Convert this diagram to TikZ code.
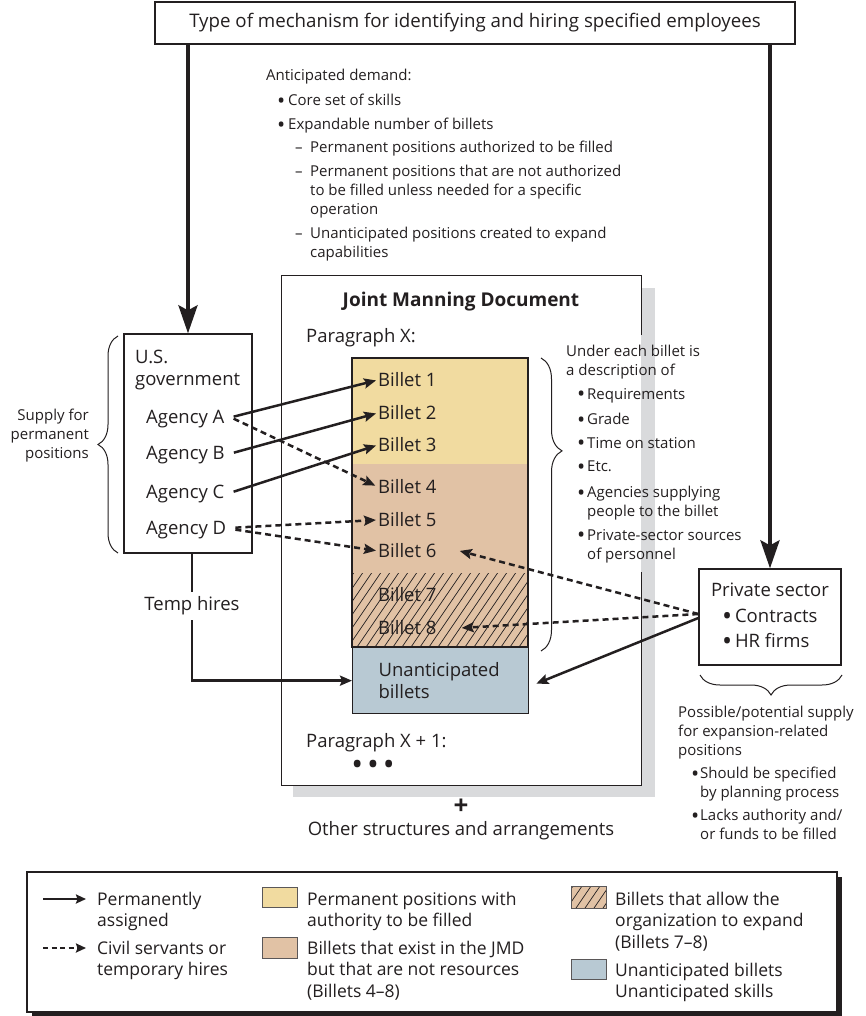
\documentclass[tikz,border=0pt]{standalone}
\usepackage{fontspec}
\setmainfont{Open Sans}
\usetikzlibrary{arrows.meta,decorations.pathreplacing,calc}
\definecolor{ink}{HTML}{231F20}
\definecolor{cyel}{HTML}{F1DBA0}
\definecolor{ctan}{HTML}{E1C2A5}
\definecolor{cblue}{HTML}{B8C9D3}
\definecolor{cshadow}{HTML}{D9DADC}
\newcommand\bigbul{\raisebox{-0.17em}{\scalebox{1.45}{•}}}
\newcommand\itm[1]{\makebox[#1][l]{\bigbul}}
\newcommand\dsh{\makebox[15pt][l]{–}}
\newcommand\fmain{\fontsize{18.5}{22}\selectfont}
\newcommand\fsmall{\fontsize{15}{19}\selectfont}
\newcommand\fleg{\fontsize{17.5}{21.5}\selectfont}
\newcommand\hatchrect[4]{%
  \begin{scope}
    \clip (#1,#2) rectangle (#3,#4);
    \foreach \hx in {0,9,...,260} \draw[hatchline] ({#1-60+\hx},{#4+3}) -- ++(56,-82);
  \end{scope}}
\begin{document}
\begin{tikzpicture}[x=1pt,y=-1pt,
  every node/.style={text=ink},
  stxt/.style={inner sep=0pt, anchor=north west, align=left, font=\fsmall},
  mtxt/.style={inner sep=0pt, anchor=north west, align=left, font=\fmain},
  ltxt/.style={inner sep=0pt, anchor=north west, align=left, font=\fleg},
  bigarrow/.style={line width=3.8pt, draw=ink, -{Stealth[length=28pt,width=19pt,inset=5pt]}},
  conn/.style={line width=2.5pt, draw=ink, -{Stealth[length=12pt,width=10pt,inset=2pt]}},
  dconn/.style={conn, dash pattern=on 6pt off 4pt},
  lconn/.style={line width=2.2pt, draw=ink, -{Stealth[length=10pt,width=9pt,inset=1.5pt]}},
  ldconn/.style={lconn, dash pattern=on 5pt off 3.5pt},
  brc/.style={decorate, line width=1pt, draw=ink},
  hatchline/.style={line width=0.7pt, draw=ink},
  swatch/.style={line width=0.8pt, draw=ink!75}
]
\useasboundingbox (0,0) rectangle (865,1016);

% ---------- title ----------
\node[draw=ink, line width=1.3pt, minimum width=640, minimum height=42, inner sep=0pt, font=\fontsize{18.7}{22}\selectfont] (title) at (475,23)
  {Type of mechanism for identifying and hiring specified employees};

% ---------- anticipated demand ----------
\node[stxt] (ad0) at (266,69) {Anticipated demand:};
\node[stxt] (ad1) at (277,94) {\itm{11pt}Core set of skills};
\node[stxt] (ad2) at (277,118) {\itm{11pt}Expandable number of billets};
\node[stxt] (ad3) at (295,141) {\dsh Permanent positions authorized to be filled};
\node[stxt] (ad4) at (295,165) {\dsh Permanent positions that are not authorized\\\hspace*{15pt}to be filled unless needed for a specific\\\hspace*{15pt}operation};
\node[stxt] (ad5) at (295,227) {\dsh Unanticipated positions created to expand\\\hspace*{15pt}capabilities};

% ---------- JMD frame ----------
\fill[cshadow] (293,288) rectangle (655,797);
\fill[white] (281,275) rectangle (641,785);
\draw[line width=1pt, draw=ink] (641,335) -- (641,275) -- (281,275) -- (281,785) -- (641,785) -- (641,572);
\node[font=\fontsize{19}{22}\selectfont\bfseries, inner sep=0pt] (jmd) at (461,302) {Joint Manning Document};
\node[mtxt] (px) at (306,328.6) {Paragraph X:};

% billet column
\fill[cyel] (352,358) rectangle (528,464);
\fill[ctan] (352,464) rectangle (528,647);
\hatchrect{352}{573}{528}{647}
\draw[line width=1.3pt, draw=ink] (352,358) rectangle (528,647);
\node[draw=ink, line width=1.3pt, fill=cblue, minimum width=176, minimum height=66, inner xsep=26pt, inner ysep=0pt, text width=124pt, align=left, font=\fmain, anchor=north west] (unant) at (352,647) {Unanticipated\\billets};

\node[mtxt] (b1) at (378,372.6) {Billet 1};
\node[mtxt] (b2) at (378,405.6) {Billet 2};
\node[mtxt] (b3) at (378,437.6) {Billet 3};
\node[mtxt] (b4) at (378,479.6) {Billet 4};
\node[mtxt] (b5) at (378,512.6) {Billet 5};
\node[mtxt] (b6) at (378,543.6) {Billet 6};
\node[mtxt] (b7) at (378,587.6) {Billet 7};
\node[mtxt] (b8) at (378,620.6) {Billet 8};

\node[mtxt] (px1) at (306,733.6) {Paragraph X + 1:};
\node[font=\fmain, inner sep=0pt] (dots) at (373,768) {\scalebox{1.7}{•}\hspace{4pt}\scalebox{1.7}{•}\hspace{4pt}\scalebox{1.7}{•}};
\node[font=\fontsize{26}{26}\selectfont\bfseries, inner sep=0pt] (plus) at (461,807) {+};
\node[font=\fmain, inner sep=0pt] (other) at (461,831) {Other structures and arrangements};

% ---------- U.S. government ----------
\node[draw=ink, line width=1.3pt, minimum width=128, minimum height=219, inner sep=0pt] (usg) at (188,443.5) {};
\node[mtxt] (usgt) at (135,349.6) {U.S.\\government};
\node[mtxt] (agA) at (146,409.6) {Agency A};
\node[mtxt] (agB) at (146,445.6) {Agency B};
\node[mtxt] (agC) at (146,484.6) {Agency C};
\node[mtxt] (agD) at (146,520.6) {Agency D};
\node[stxt, anchor=north east, align=right] (sup) at (89,409) {Supply for\\permanent\\positions};
\coordinate (lbA) at (118,553);
\coordinate (lbB) at (118,336);
\draw[brc, decoration={brace, amplitude=20pt}] (lbA) -- (lbB);

\node[font=\fmain, fill=white, inner xsep=1pt, inner ysep=5pt] (temp) at (192,606) {Temp hires};

% ---------- description ----------
\node[stxt] (ue0) at (566,345) {Under each billet is\\a description of};
\node[stxt] (ue1) at (577,388) {\itm{10pt}Requirements};
\node[stxt] (ue2) at (577,413) {\itm{10pt}Grade};
\node[stxt] (ue3) at (577,437) {\itm{10pt}Time on station};
\node[stxt] (ue4) at (577,461) {\itm{10pt}Etc.};
\node[stxt] (ue5) at (577,486) {\itm{10pt}Agencies supplying\\\hspace*{10pt}people to the billet};
\node[stxt] (ue6) at (577,529) {\itm{10pt}Private-sector sources\\\hspace*{10pt}of personnel};
\coordinate (rbA) at (541,358);
\coordinate (rbB) at (541,651);
\draw[brc, decoration={brace, amplitude=21pt, aspect=0.317}] (rbA) -- (rbB);

% ---------- private sector ----------
\node[draw=ink, line width=1.3pt, minimum width=142, minimum height=96, inner sep=0pt, align=left, font=\fontsize{18.5}{25.5}\selectfont] (ps) at (770,617)
  {Private sector\\\hspace*{11pt}\itm{13pt}Contracts\\\hspace*{11pt}\itm{13pt}HR firms};
\coordinate (bbA) at (842,675);
\coordinate (bbB) at (700,675);
\draw[brc, decoration={brace, amplitude=20pt}] (bbA) -- (bbB);
\node[stxt] (pp0) at (678,706) {Possible/potential supply\\for expansion-related\\positions};
\node[stxt] (pp1) at (691,767) {\itm{9pt}Should be specified\\\hspace*{9pt}by planning process};
\node[stxt] (pp2) at (691,809) {\itm{9pt}Lacks authority and/\\\hspace*{9pt}or funds to be filled};

% ---------- connectors ----------
\draw[bigarrow] (title.south -| usg.north) -- (usg.north);
\draw[bigarrow] (title.south -| ps.north) -- (ps.north);

\draw[conn, shorten >=2pt] ([xshift=9pt,yshift=2pt]agA.east) -- (b1.west);
\draw[conn, shorten >=2pt] ([xshift=9pt,yshift=2pt]agB.east) -- (b2.west);
\draw[conn, shorten >=2pt] ([xshift=9pt,yshift=2pt]agC.east) -- (b3.west);
\draw[dconn, shorten >=3pt] ([xshift=9pt]agA.east) -- (b4.west);
\draw[dconn, shorten >=2pt] ([xshift=9pt,yshift=2pt]agD.east) -- (b5.west);
\draw[dconn, shorten >=2pt] ([xshift=9pt]agD.east) -- (b6.west);

\draw[line width=2.5pt, draw=ink] (usg.south -| temp.north) -- (temp.north);
\draw[conn] (temp.south) |- (unant.west);

\draw[dconn] ([yshift=3pt]ps.west) -- ([xshift=23pt]b6.east);
\draw[dconn] ([yshift=3pt]ps.west) -- ([xshift=25pt]b8.east);
\draw[conn] ([yshift=-1pt]ps.west) -- ([xshift=7pt,yshift=-3pt]unant.east);

% ---------- legend ----------
\fill[ink] (32,877) rectangle (842,1017);
\draw[line width=1.2pt, draw=ink, fill=white] (27,872) rectangle (837,1012);
\coordinate (la1) at (43,899);
\coordinate (la2) at (86,899);
\coordinate (lb1) at (43,948);
\coordinate (lb2) at (86,948);
\draw[lconn] (la1) -- (la2);
\draw[ldconn] (lb1) -- (lb2);
\node[ltxt] (l1) at (97,891.5) {Permanently\\assigned};
\node[ltxt] (l2) at (97,940.5) {Civil servants or\\temporary hires};
\fill[cyel] (262,887) rectangle (297,907);
\draw[swatch] (262,887) rectangle (297,907);
\node[ltxt] (l3) at (307,891.5) {Permanent positions with\\authority to be filled};
\fill[ctan] (262,937) rectangle (297,958);
\draw[swatch] (262,937) rectangle (297,958);
\node[ltxt] (l4) at (307,940.5) {Billets that exist in the JMD\\but that are not resources\\(Billets 4–8)};
\fill[ctan] (571,886) rectangle (606,908);
\hatchrect{571}{886}{606}{908}
\draw[swatch] (571,886) rectangle (606,908);
\node[ltxt] (l5) at (615,891.5) {Billets that allow the\\organization to expand\\(Billets 7–8)};
\fill[cblue] (571,959) rectangle (606,979);
\draw[swatch] (571,959) rectangle (606,979);
\node[ltxt] (l6) at (615,962.5) {Unanticipated billets\\Unanticipated skills};
\end{tikzpicture}
\end{document}
